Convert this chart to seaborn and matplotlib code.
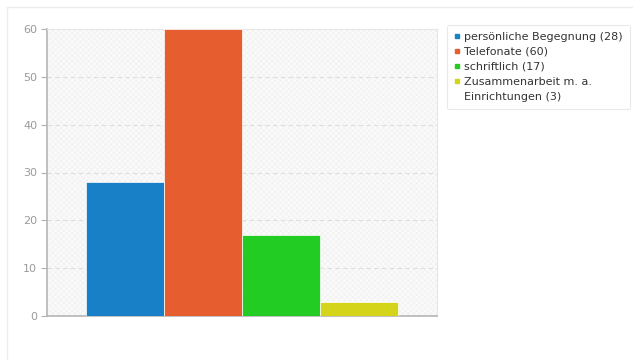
import matplotlib
matplotlib.use("Agg")
import matplotlib.pyplot as plt
from matplotlib.patches import Rectangle
from matplotlib.lines import Line2D
import seaborn as sns

categories = ["persönliche Begegnung", "Telefonate", "schriftlich",
              "Zusammenarbeit m. a. Einrichtungen"]
values = [28, 60, 17, 3]
colors = ["#1780c6", "#e65d30", "#22cc22", "#d4d51a"]
y_ticks = [0, 10, 20, 30, 40, 50, 60]

sns.set_theme(style="white")
plt.rcParams["font.family"] = ["DejaVu Sans"]
plt.rcParams["hatch.linewidth"] = 0.4

fig = plt.figure(figsize=(6.33, 3.6), dpi=100)
fig.patch.set_facecolor("white")

# card outline around the chart
fig.patches.append(Rectangle((7 / 633, -0.05), 1.05, 1 - 7 / 360 + 0.05,
                             transform=fig.transFigure, facecolor="white",
                             edgecolor="#ececec", linewidth=1.0, zorder=-5))

ax = fig.add_axes([47 / 633, 1 - 316 / 360, (437 - 47) / 633, (316 - 29) / 360])
ax.set_facecolor("#fafafa")
ax.add_patch(Rectangle((0, 0), 1, 1, transform=ax.transAxes, facecolor="none",
                       edgecolor="#efefef", hatch="xxxxxx", linewidth=0, zorder=0))

x_pos = list(range(len(categories)))
sns.barplot(x=x_pos, y=values, hue=x_pos, palette=colors, width=1.0,
            dodge=False, legend=False, edgecolor="white", linewidth=0.5,
            saturation=1, native_scale=True, ax=ax, zorder=3)

ax.set_xlim(-1.0, 4.0)
ax.set_ylim(0, 60)
ax.set_yticks(y_ticks)
ax.set_yticklabels([str(v) for v in y_ticks], color="#9a9a9a", fontsize=8)
ax.set_xticks([])
ax.set_xlabel("")
ax.set_ylabel("")
ax.tick_params(axis="y", length=4, width=0.8, color="#b0b0b0", pad=3, left=True)
for v in y_ticks[1:-1]:
    ax.axhline(v, color="#dddddd", linewidth=0.8, linestyle=(0, (4, 3)), zorder=1)

for side in ["left", "bottom"]:
    ax.spines[side].set_color("#b5b5b5")
    ax.spines[side].set_linewidth(1.2)
for side in ["top", "right"]:
    ax.spines[side].set_color("#e6e6e6")
    ax.spines[side].set_linewidth(0.8)

# legend: long label wraps onto a second line without its own marker
labels = [f"{c} ({v})" for c, v in zip(categories[:3], values[:3])]
labels += ["Zusammenarbeit m. a.", f"Einrichtungen ({values[3]})"]
handles = [Line2D([], [], marker="s", linestyle="none", markersize=3.2,
                  markerfacecolor=c, markeredgecolor=c) for c in colors]
handles.append(Line2D([], [], linestyle="none"))
leg = fig.legend(handles, labels, loc="upper left",
                 bbox_to_anchor=(447 / 633, 1 - 25 / 360), frameon=True,
                 fontsize=8, labelcolor="#333333", handlelength=0.5,
                 handletextpad=0.45, borderpad=0.62, labelspacing=0.45,
                 borderaxespad=0, fancybox=True)
frame = leg.get_frame()
frame.set_edgecolor("#e4e4e4")
frame.set_linewidth(0.8)
frame.set_facecolor("white")

fig.savefig("out.png", dpi=100)
